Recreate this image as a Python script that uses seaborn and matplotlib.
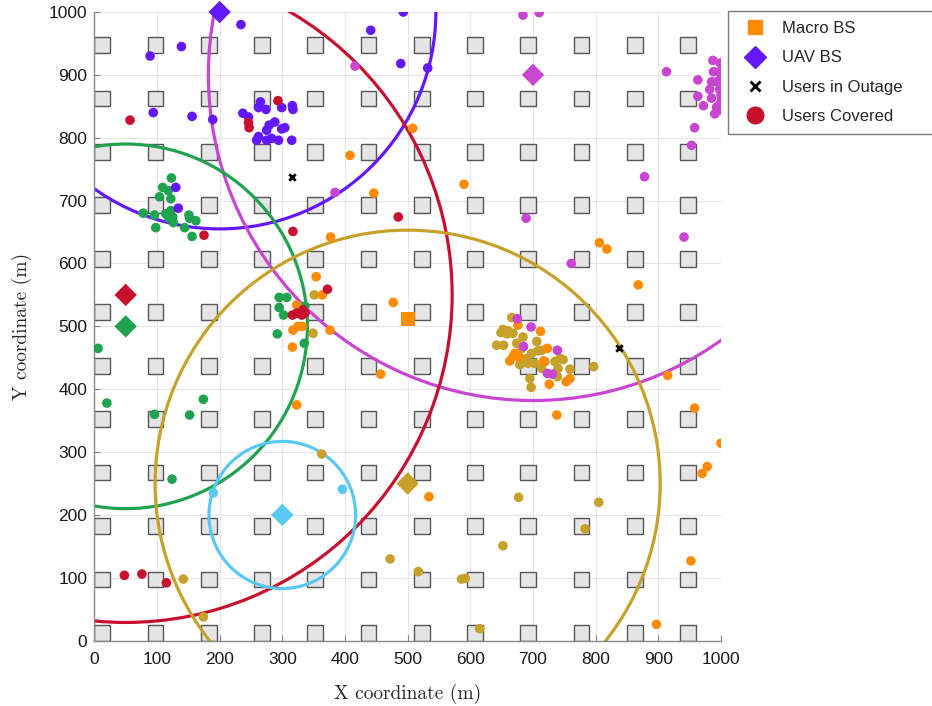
import numpy as np
import pandas as pd
import seaborn as sns
import matplotlib

matplotlib.use("Agg")
import matplotlib.pyplot as plt
from matplotlib.patches import Circle, Rectangle
from matplotlib.lines import Line2D

# building grid (lower-left corners, m) and building side length
building_pos = [0, 85, 170, 255, 340, 425, 510, 595, 680, 765, 850, 935]
building_size = 25

# UAV base stations: position, coverage radius, colour
uav_names = ["purple", "magenta", "red", "green", "lightblue", "olive"]
uav_x = [200, 700, 50, 50, 300, 500]
uav_y = [1000, 900, 550, 500, 200, 250]
uav_r = [345, 518, 521, 290, 117, 403]
uav_colors = ["#6418ff", "#c846d2", "#c8102e", "#1fa34f", "#5ac8f5", "#c8a12a"]

macro_x = [500]
macro_y = [511]
macro_color = "#ff8c00"

outage_x = [315, 838]
outage_y = [738, 465]

# users, grouped by serving BS
purple_x = [493, 234, 441, 489, 532, 139, 89, 94, 156, 189,
            237, 246, 262, 265, 274, 299, 316, 317, 288, 279, 275, 299, 304,
            259, 262, 275, 283, 294, 315, 130, 134]
purple_y = [1000, 980, 971, 918, 911, 945, 930, 840, 834, 829,
            839, 833, 848, 857, 845, 848, 851, 845, 825, 820, 812, 814, 816,
            796, 802, 796, 799, 796, 796, 721, 688]

red_x = [57, 293, 246, 247, 317, 175, 485, 372, 316, 323, 331, 336, 333, 48, 76, 115]
red_y = [828, 859, 824, 816, 651, 645, 674, 559, 518, 521, 518, 521, 526, 104, 106, 92]

green_x = [123, 109, 118, 104, 122, 78, 96, 114, 122, 125, 119, 126, 151, 152, 162,
           98, 144, 156, 295, 307, 295, 302, 292, 335, 336, 6, 20, 96, 152, 174, 124]
green_y = [736, 721, 716, 706, 703, 680, 677, 679, 684, 674, 672, 665, 677, 672, 668,
           657, 657, 643, 546, 546, 530, 518, 488, 473, 532, 465, 378, 360, 359, 384, 257]

lightblue_x = [190, 396]
lightblue_y = [235, 241]

olive_x = [363, 142, 174, 677, 805, 783, 652, 517, 586, 592, 615, 472, 351, 349, 797,
           666, 652, 660, 659, 649, 642, 653, 668, 674, 684, 706, 698, 708, 690, 676,
           679, 692, 703, 714, 719, 735, 743, 748, 740, 739, 695, 697, 714, 759, 682, 668]
olive_y = [297, 98, 38, 228, 220, 178, 151, 110, 98, 99, 19, 130, 550, 489, 436,
           514, 495, 493, 488, 490, 470, 470, 489, 473, 483, 476, 457, 461, 449, 454,
           439, 441, 441, 433, 444, 444, 449, 447, 433, 420, 417, 403, 462, 432, 465, 452]

orange_x = [676, 712, 671, 678, 663, 723, 717, 726, 753, 759,
            806, 818, 868, 915, 958, 1000, 738, 508, 590, 534, 978, 970, 952, 897,
            408, 446, 377, 354, 364, 323, 317, 325, 332, 376, 316, 477, 457, 323]
orange_y = [502, 492, 457, 451, 445, 465, 445, 408, 412, 417,
            633, 623, 566, 422, 370, 314, 359, 815, 726, 229, 277, 266, 127, 26,
            772, 712, 642, 579, 550, 534, 494, 500, 500, 494, 467, 538, 424, 375]

magenta_x = [675, 697, 685, 739, 723, 731, 761, 941, 416, 384, 684, 710, 913, 689, 878, 958, 953,
             987, 999, 988, 997, 1000, 985, 993, 963, 982, 998, 1000, 963, 985, 1000, 972, 993, 1000, 990]
magenta_y = [512, 499, 468, 462, 425, 424, 600, 642, 914, 713, 995, 999, 905, 672, 738, 816, 788,
             923, 919, 905, 905, 895, 889, 889, 892, 877, 877, 868, 866, 863, 857, 851, 849, 844, 838]

groups = [
    ("green", green_x, green_y, "#1fa34f"),
    ("olive", olive_x, olive_y, "#c8a12a"),
    ("orange", orange_x, orange_y, macro_color),
    ("lightblue", lightblue_x, lightblue_y, "#5ac8f5"),
    ("purple", purple_x, purple_y, "#6418ff"),
    ("magenta", magenta_x, magenta_y, "#c846d2"),
    ("red", red_x, red_y, "#c8102e"),
]
users = pd.concat(
    [pd.DataFrame({"x": gx, "y": gy, "group": name}) for name, gx, gy, _ in groups],
    ignore_index=True,
)
palette = {name: col for name, _, _, col in groups}

sns.set_theme(style="white")
plt.rcParams["font.family"] = ["Liberation Sans", "DejaVu Sans"]

fig = plt.figure(figsize=(9.32, 7.06), dpi=100)
ax = fig.add_axes([0.1012, 0.0925, 0.6724, 0.8905])

ax.grid(True, color="#e6e6e6", linewidth=0.8)
ax.set_axisbelow(True)

for bx in building_pos:
    for by in building_pos:
        ax.add_patch(Rectangle((bx, by), building_size, building_size,
                               facecolor="#e5e5e5", edgecolor="#555555",
                               linewidth=1.0, zorder=1))

for cx, cy, r, col in zip(uav_x, uav_y, uav_r, uav_colors):
    ax.add_patch(Circle((cx, cy), r, fill=False, edgecolor=col, linewidth=2.3, zorder=2))

sns.scatterplot(data=users, x="x", y="y", hue="group", palette=palette,
                s=48, edgecolor="none", legend=False, ax=ax, zorder=3)

uav_df = pd.DataFrame({"x": uav_x, "y": uav_y, "group": uav_names})
sns.scatterplot(data=uav_df, x="x", y="y", hue="group",
                palette=dict(zip(uav_names, uav_colors)), marker="D", s=130,
                edgecolor="none", legend=False, ax=ax, zorder=4, clip_on=False)

sns.scatterplot(x=macro_x, y=macro_y, marker="s", s=100, color=macro_color,
                edgecolor="none", ax=ax, zorder=4)
ax.scatter(outage_x, outage_y, marker="x", s=22, color="black", linewidths=2, zorder=4)

ax.set_xlim(0, 1000)
ax.set_ylim(0, 1000)
ax.set_xticks(np.arange(0, 1001, 100))
ax.set_yticks(np.arange(0, 1001, 100))
ax.tick_params(axis="both", which="both", direction="in", length=4, width=0.8,
               color="#808080", labelsize=12.5, labelcolor="#1a1a1a",
               bottom=True, left=True, top=False, right=False, pad=5)
ax.tick_params(axis="x", pad=8)
for side in ["top", "right"]:
    ax.spines[side].set_visible(False)
for side in ["left", "bottom"]:
    ax.spines[side].set_color("#8a8a8a")
    ax.spines[side].set_linewidth(1.0)

ax.set_xlabel("X coordinate (m)", fontfamily="cmr10", fontsize=14, labelpad=12)
ax.set_ylabel("Y coordinate (m)", fontfamily="cmr10", fontsize=14, labelpad=12)

handles = [
    Line2D([], [], linestyle="none", marker="s", markersize=10, color=macro_color),
    Line2D([], [], linestyle="none", marker="D", markersize=11, color="#6418ff"),
    Line2D([], [], linestyle="none", marker="x", markersize=7, markeredgewidth=2, color="black"),
    Line2D([], [], linestyle="none", marker="o", markersize=12, color="#c8102e"),
]
labels = ["Macro BS", "UAV BS", "Users in Outage", "Users Covered"]
leg = fig.legend(handles, labels, loc="upper left",
                 bbox_to_anchor=(728 / 932, 1 - 11 / 706, 230 / 932, 0),
                 mode="expand", borderaxespad=0,
                 fancybox=False, framealpha=1, edgecolor="#7a7a7a",
                 fontsize=12, handletextpad=0.66, labelspacing=0.86,
                 borderpad=0.6)
leg.get_frame().set_linewidth(1.0)

fig.savefig("out.png", dpi=100)
